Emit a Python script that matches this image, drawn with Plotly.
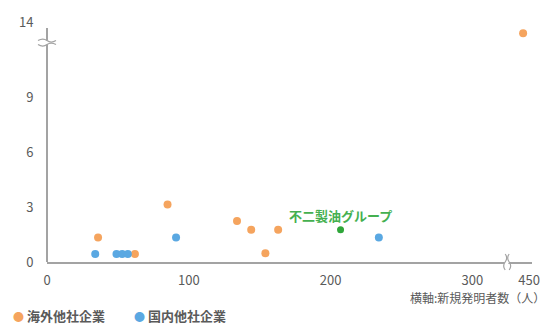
import plotly.graph_objects as go

# Inventor counts (x) and values (y) per company group
overseas_x = [36, 62, 85, 134, 144, 154, 163, 434]
overseas_y = [1.33, 0.43, 3.14, 2.24, 1.76, 0.48, 1.76, 13.3]
domestic_x = [34, 49, 53, 57, 91, 234]
domestic_y = [0.43, 0.43, 0.43, 0.43, 1.33, 1.33]
fuji_x = [207]
fuji_y = [1.76]
fuji_label = "不二製油グループ"

x_ticks = [0, 100, 200, 300, 450]
y_ticks = [0, 3, 6, 9, 14]
legend_names = ["海外他社企業", "国内他社企業"]
x_title = "横軸:新規発明者数（人）"

ORANGE = "#F5A45E"
BLUE = "#5AA8E2"
GREEN = "#2FA63A"
AXIS = "#A3A3A3"
TEXT = "#5A5A5A"
FONT = "Noto Sans CJK JP"

# Broken axes: compress the range beyond the break
X_BREAK, X_SCALE = 300, 40 / 150
Y_BREAK, Y_SCALE = 9, 4.05 / 5


def fx(v):
    return v if v <= X_BREAK else X_BREAK + (v - X_BREAK) * X_SCALE


def fy(v):
    return v if v <= Y_BREAK else Y_BREAK + (v - Y_BREAK) * Y_SCALE


fig = go.Figure()
fig.add_trace(go.Scatter(
    x=[fx(v) for v in overseas_x], y=[fy(v) for v in overseas_y],
    mode="markers", name=legend_names[0],
    marker=dict(color=ORANGE, size=8), showlegend=False))
fig.add_trace(go.Scatter(
    x=[fx(v) for v in domestic_x], y=[fy(v) for v in domestic_y],
    mode="markers", name=legend_names[1],
    marker=dict(color=BLUE, size=8), showlegend=False))
fig.add_trace(go.Scatter(
    x=[fx(v) for v in fuji_x], y=[fy(v) for v in fuji_y],
    mode="markers+text", name=fuji_label, text=[fuji_label],
    textposition="top center",
    textfont=dict(color="#45B050", size=13, family=FONT, weight="bold"),
    marker=dict(color=GREEN, size=7), showlegend=False))

X_MAX, Y_MAX = 342, 13.2
Y_TOP = 12.77

fig.update_xaxes(
    range=[0, X_MAX], tickvals=[fx(v) for v in x_ticks],
    ticktext=[str(v) for v in x_ticks], showgrid=False, zeroline=False,
    showline=True, linecolor=AXIS, linewidth=2,
    ticks="outside", ticklen=5, tickcolor="rgba(0,0,0,0)",
    tickfont=dict(size=13, color=TEXT, family=FONT), fixedrange=True)
fig.update_yaxes(
    range=[0, Y_MAX], tickvals=[fy(v) for v in y_ticks],
    ticktext=[str(v) for v in y_ticks], showgrid=False, zeroline=False,
    showline=False, ticks="outside", ticklen=10, tickcolor="rgba(0,0,0,0)",
    tickfont=dict(size=13, color=TEXT, family=FONT), fixedrange=True)

shapes = [
    # y axis line stops below the top tick label
    dict(type="line", xref="paper", yref="y", x0=0, x1=0, y0=0, y1=Y_TOP,
         line=dict(color=AXIS, width=2)),
]

# break mark on y axis
yb = 11.97
shapes += [
    dict(type="path", xref="paper", yref="y", xsizemode="pixel", ysizemode="pixel",
         xanchor=0, yanchor=yb,
         path="M -9 -2 Q -4 -5 0 -2 T 9 -2 L 9 2 Q 4 5 0 2 T -9 2 Z",
         fillcolor="white", line=dict(color="white", width=0)),
    dict(type="path", xref="paper", yref="y", xsizemode="pixel", ysizemode="pixel",
         xanchor=0, yanchor=yb, path="M -9 -2 Q -4 -5 0 -2 T 9 -2",
         line=dict(color=AXIS, width=1.2)),
    dict(type="path", xref="paper", yref="y", xsizemode="pixel", ysizemode="pixel",
         xanchor=0, yanchor=yb, path="M -9 2 Q -4 5 0 2 T 9 2",
         line=dict(color=AXIS, width=1.2)),
]

# break mark on x axis
xb = 324.5
shapes += [
    dict(type="path", xref="x", yref="paper", xsizemode="pixel", ysizemode="pixel",
         xanchor=xb, yanchor=0,
         path="M -2 -8 Q -5 -4 -2 0 T -2 8 L 2 8 Q 5 4 2 0 T 2 -8 Z",
         fillcolor="white", line=dict(color="white", width=0)),
    dict(type="path", xref="x", yref="paper", xsizemode="pixel", ysizemode="pixel",
         xanchor=xb, yanchor=0, path="M -2 -8 Q -5 -4 -2 0 T -2 8",
         line=dict(color=AXIS, width=1.2)),
    dict(type="path", xref="x", yref="paper", xsizemode="pixel", ysizemode="pixel",
         xanchor=xb, yanchor=0, path="M 2 -8 Q 5 -4 2 0 T 2 8",
         line=dict(color=AXIS, width=1.2)),
]

annotations = [
    dict(text=x_title, xref="paper", yref="paper", x=1.03, y=-0.105,
         xanchor="right", yanchor="top", showarrow=False,
         font=dict(size=12, color=TEXT, family=FONT)),
]

# legend entries: coloured dot followed by the series name
legend_pos = [(-0.074, ORANGE), (0.175, BLUE)]
for name, (lx, color) in zip(legend_names, legend_pos):
    annotations.append(dict(
        text=f'<span style="color:{color};font-size:11px">●</span> {name}',
        xref="paper", yref="paper", x=lx, y=-0.175, xanchor="left", yanchor="top",
        showarrow=False, font=dict(size=13, color=TEXT, family=FONT, weight="bold")))

fig.update_layout(
    width=552, height=327,
    margin=dict(l=47, r=17, t=14, b=65),
    paper_bgcolor="white", plot_bgcolor="white",
    font=dict(family=FONT, color=TEXT),
    shapes=shapes, annotations=annotations,
)

fig.write_html("out.html")
